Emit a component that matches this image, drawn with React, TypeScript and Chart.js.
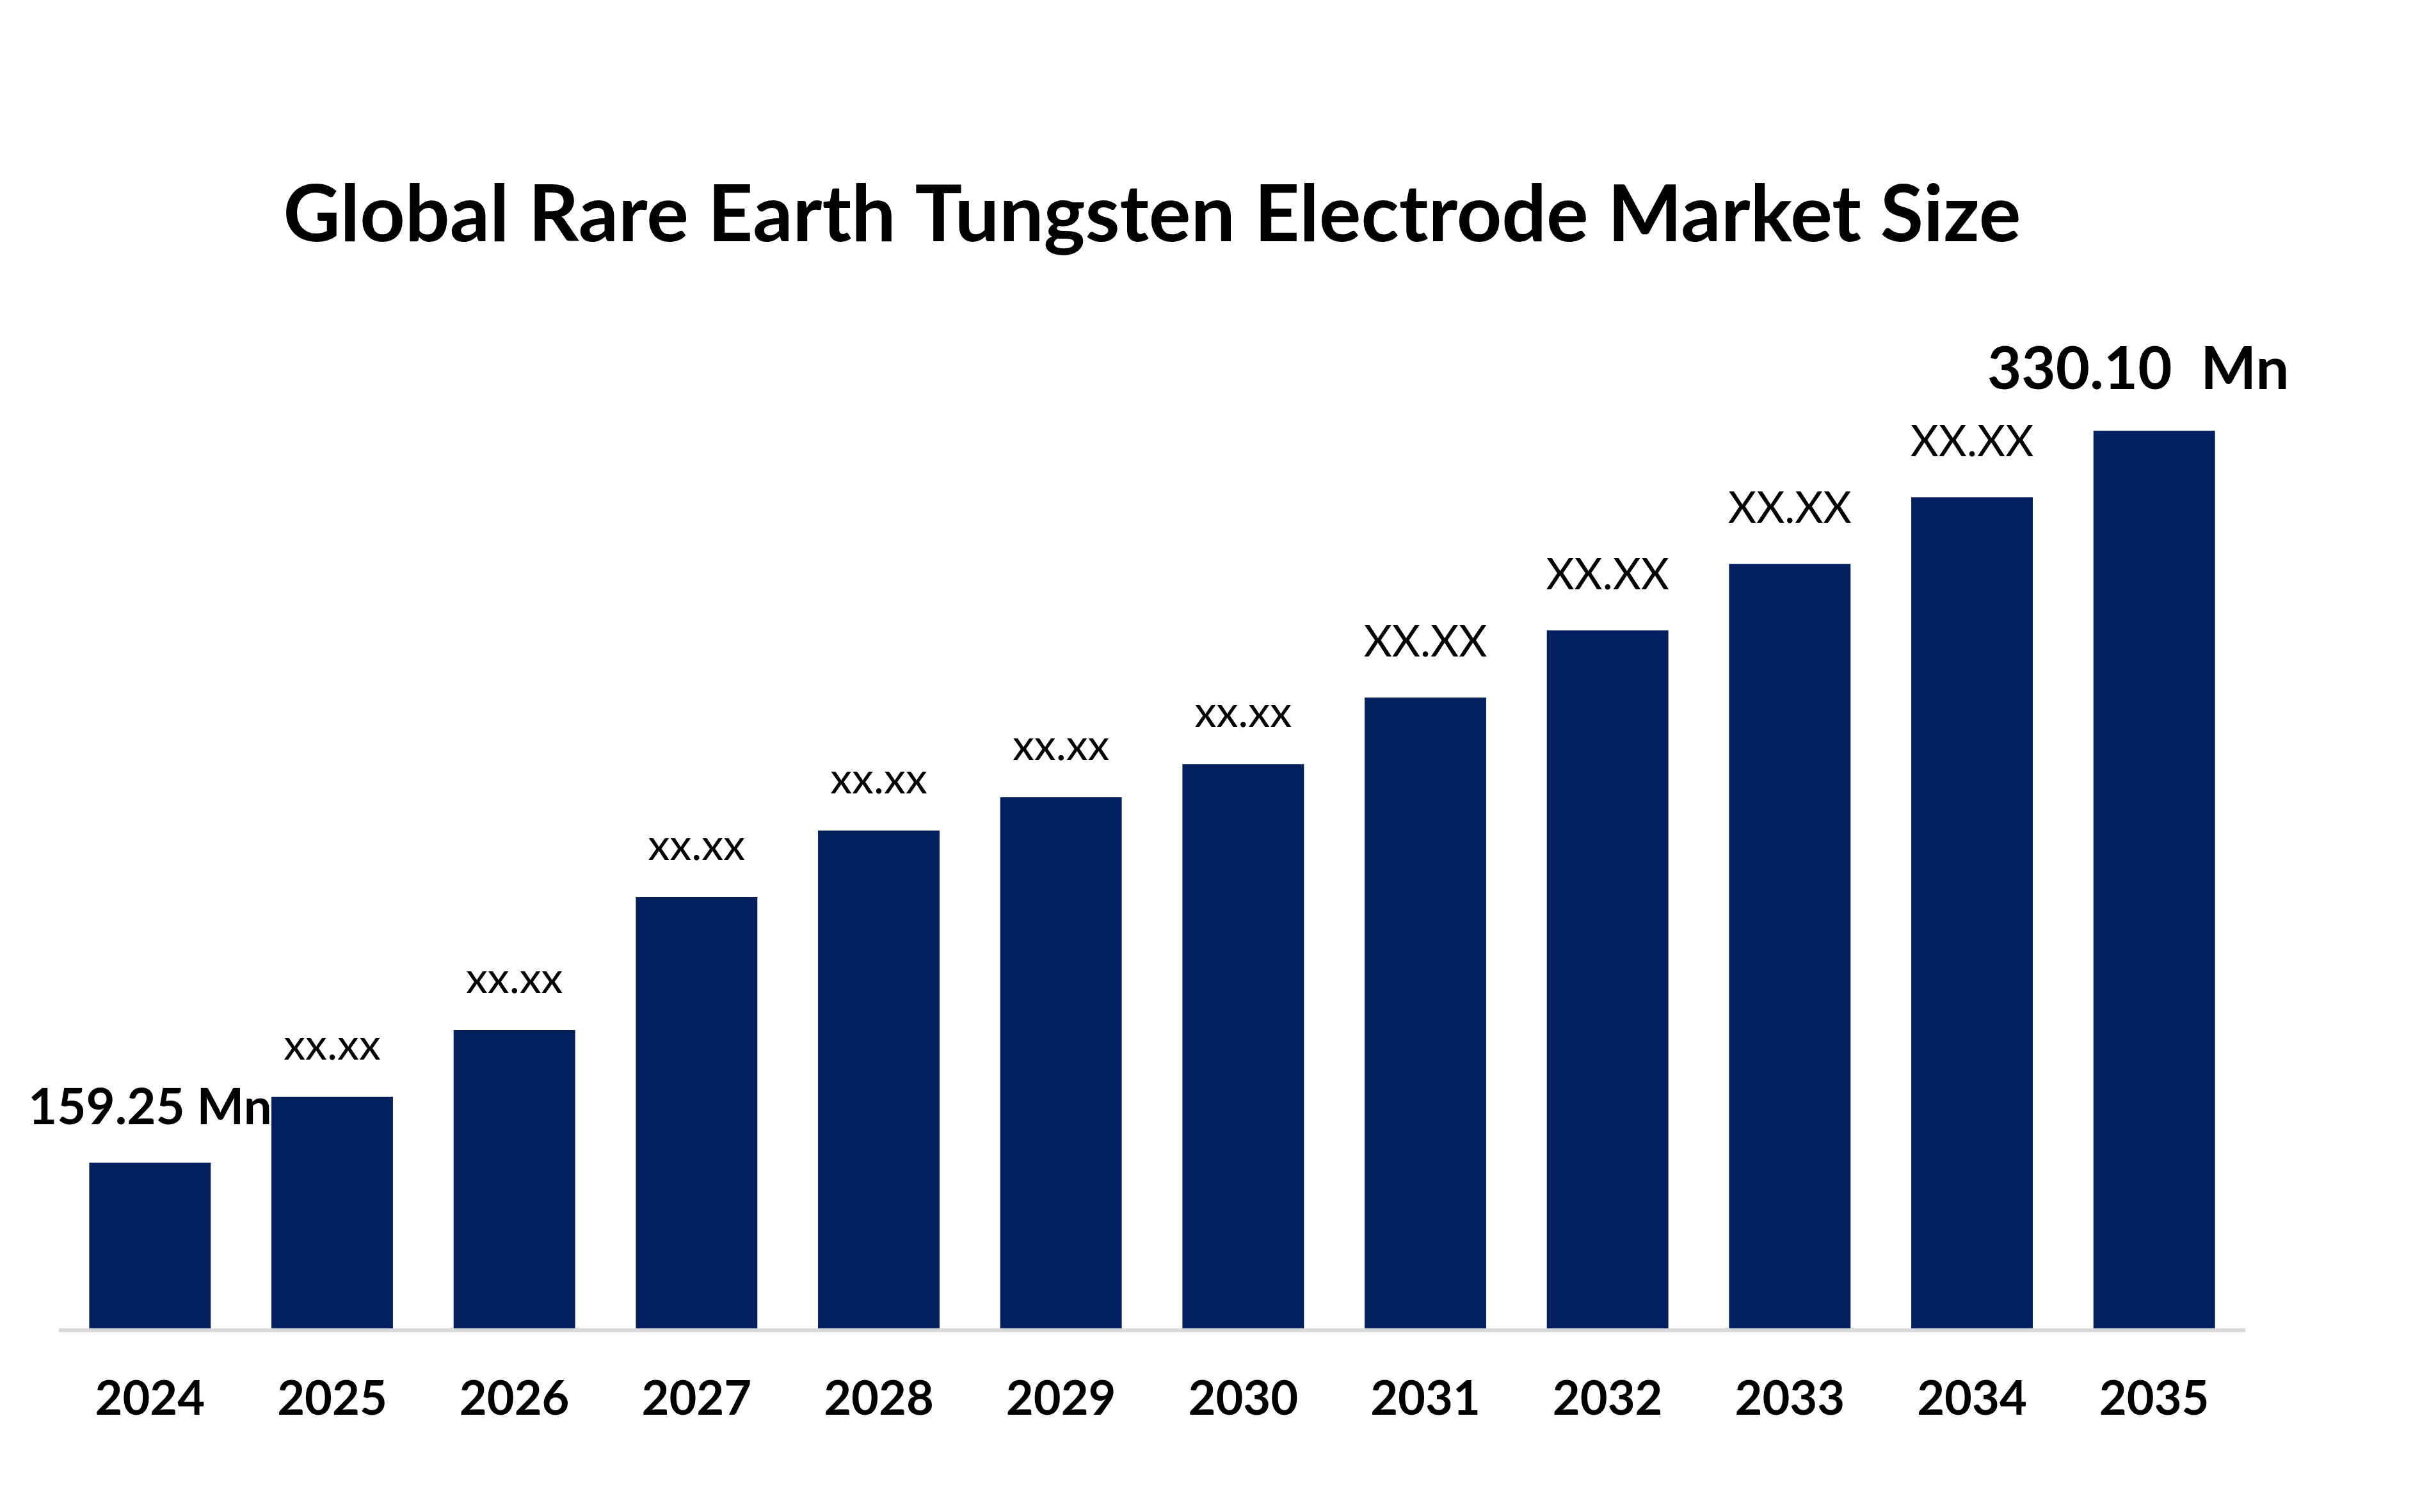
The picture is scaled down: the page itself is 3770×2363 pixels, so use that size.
import React, { useEffect, useRef } from "react";
import { Chart, registerables } from "chart.js";

Chart.register(...registerables);

// Market size by year (USD Mn)
const years = ["2024", "2025", "2026", "2027", "2028", "2029", "2030", "2031", "2032", "2033", "2034", "2035"];
const marketSize = [159.25, 174.63, 190.16, 221.23, 236.76, 244.53, 252.29, 267.82, 283.5, 299.04, 314.57, 330.1];
const valueLabels = [
  "159.25 Mn",
  "xx.xx",
  "xx.xx",
  "xx.xx",
  "xx.xx",
  "xx.xx",
  "xx.xx",
  "XX.XX",
  "XX.XX",
  "XX.XX",
  "XX.XX",
  "330.10  Mn",
];
const chartTitle = "Global Rare Earth Tungsten Electrode Market Size";

// value axis range (axis itself is hidden)
const yMin = 120.57;
const yMax = 360;

const W = 3770;
const H = 2363;
const FONT = "Lato, 'Open Sans', sans-serif";
const BAR_COLOR = "#02205E";

function labelStyle(text: string, index: number, count: number) {
  if (text.includes("Mn")) {
    const last = index === count - 1;
    return {
      font: `bold ${last ? 92 : 78}px ${FONT}`,
      offset: last ? 65 : 60,
      dx: last ? -25 : 0,
    };
  }
  const lower = text === text.toLowerCase();
  return { font: `${68}px ${FONT}`, offset: lower ? 58 : 64, dx: 0 };
}

const titlePlugin = {
  id: "titleText",
  afterDraw(chart: any) {
    const ctx = chart.ctx;
    ctx.save();
    ctx.fillStyle = "#000";
    ctx.font = `bold 123px ${FONT}`;
    ctx.textAlign = "center";
    ctx.textBaseline = "alphabetic";
    ctx.fillText(chartTitle, 1800, 377, 2717);
    ctx.restore();
  },
};

const baselinePlugin = {
  id: "baseline",
  beforeDatasetsDraw(chart: any) {
    const { ctx, chartArea } = chart;
    ctx.save();
    ctx.fillStyle = "#D9D9D9";
    ctx.fillRect(chartArea.left, chartArea.bottom, chartArea.right - chartArea.left, 6);
    ctx.restore();
  },
};

const valueLabelPlugin = {
  id: "valueLabels",
  afterDatasetsDraw(chart: any) {
    const ctx = chart.ctx;
    const meta = chart.getDatasetMeta(0);
    ctx.save();
    ctx.fillStyle = "#000";
    ctx.textAlign = "center";
    ctx.textBaseline = "alphabetic";
    meta.data.forEach((bar: any, i: number) => {
      const text = valueLabels[i];
      const st = labelStyle(text, i, meta.data.length);
      ctx.font = st.font;
      ctx.fillText(text, bar.x + st.dx, bar.y - st.offset);
    });
    ctx.restore();
  },
};

export default function App() {
  const canvasRef = useRef<HTMLCanvasElement | null>(null);

  useEffect(() => {
    document.body.style.margin = "0";
    document.body.style.background = "#fff";
    const canvas = canvasRef.current;
    if (!canvas) return;
    const chart = new Chart(canvas, {
      type: "bar",
      data: {
        labels: years,
        datasets: [
          {
            data: marketSize,
            backgroundColor: BAR_COLOR,
            borderWidth: 0,
            barPercentage: 0.667,
            categoryPercentage: 1.0,
          },
        ],
      },
      options: {
        responsive: false,
        animation: false,
        devicePixelRatio: 1,
        layout: { padding: { left: 92, right: 262, top: 473, bottom: 0 } },
        plugins: {
          legend: { display: false },
          title: { display: false },
          tooltip: { enabled: false },
        },
        scales: {
          x: {
            grid: { display: false, drawTicks: false },
            border: { display: false },
            ticks: {
              color: "#000",
              font: { family: FONT, weight: "bold", size: 74 },
              padding: 67,
              maxRotation: 0,
              autoSkip: false,
            },
            afterFit: (scale: any) => {
              scale.height = 287;
            },
          },
          y: { display: false, min: yMin, max: yMax },
        },
      },
      plugins: [titlePlugin, baselinePlugin, valueLabelPlugin],
    });
    return () => chart.destroy();
  }, []);

  return (
    <div style={{ width: W, height: H, background: "#fff" }}>
      <canvas ref={canvasRef} width={W} height={H} style={{ width: W, height: H, display: "block" }} />
    </div>
  );
}
